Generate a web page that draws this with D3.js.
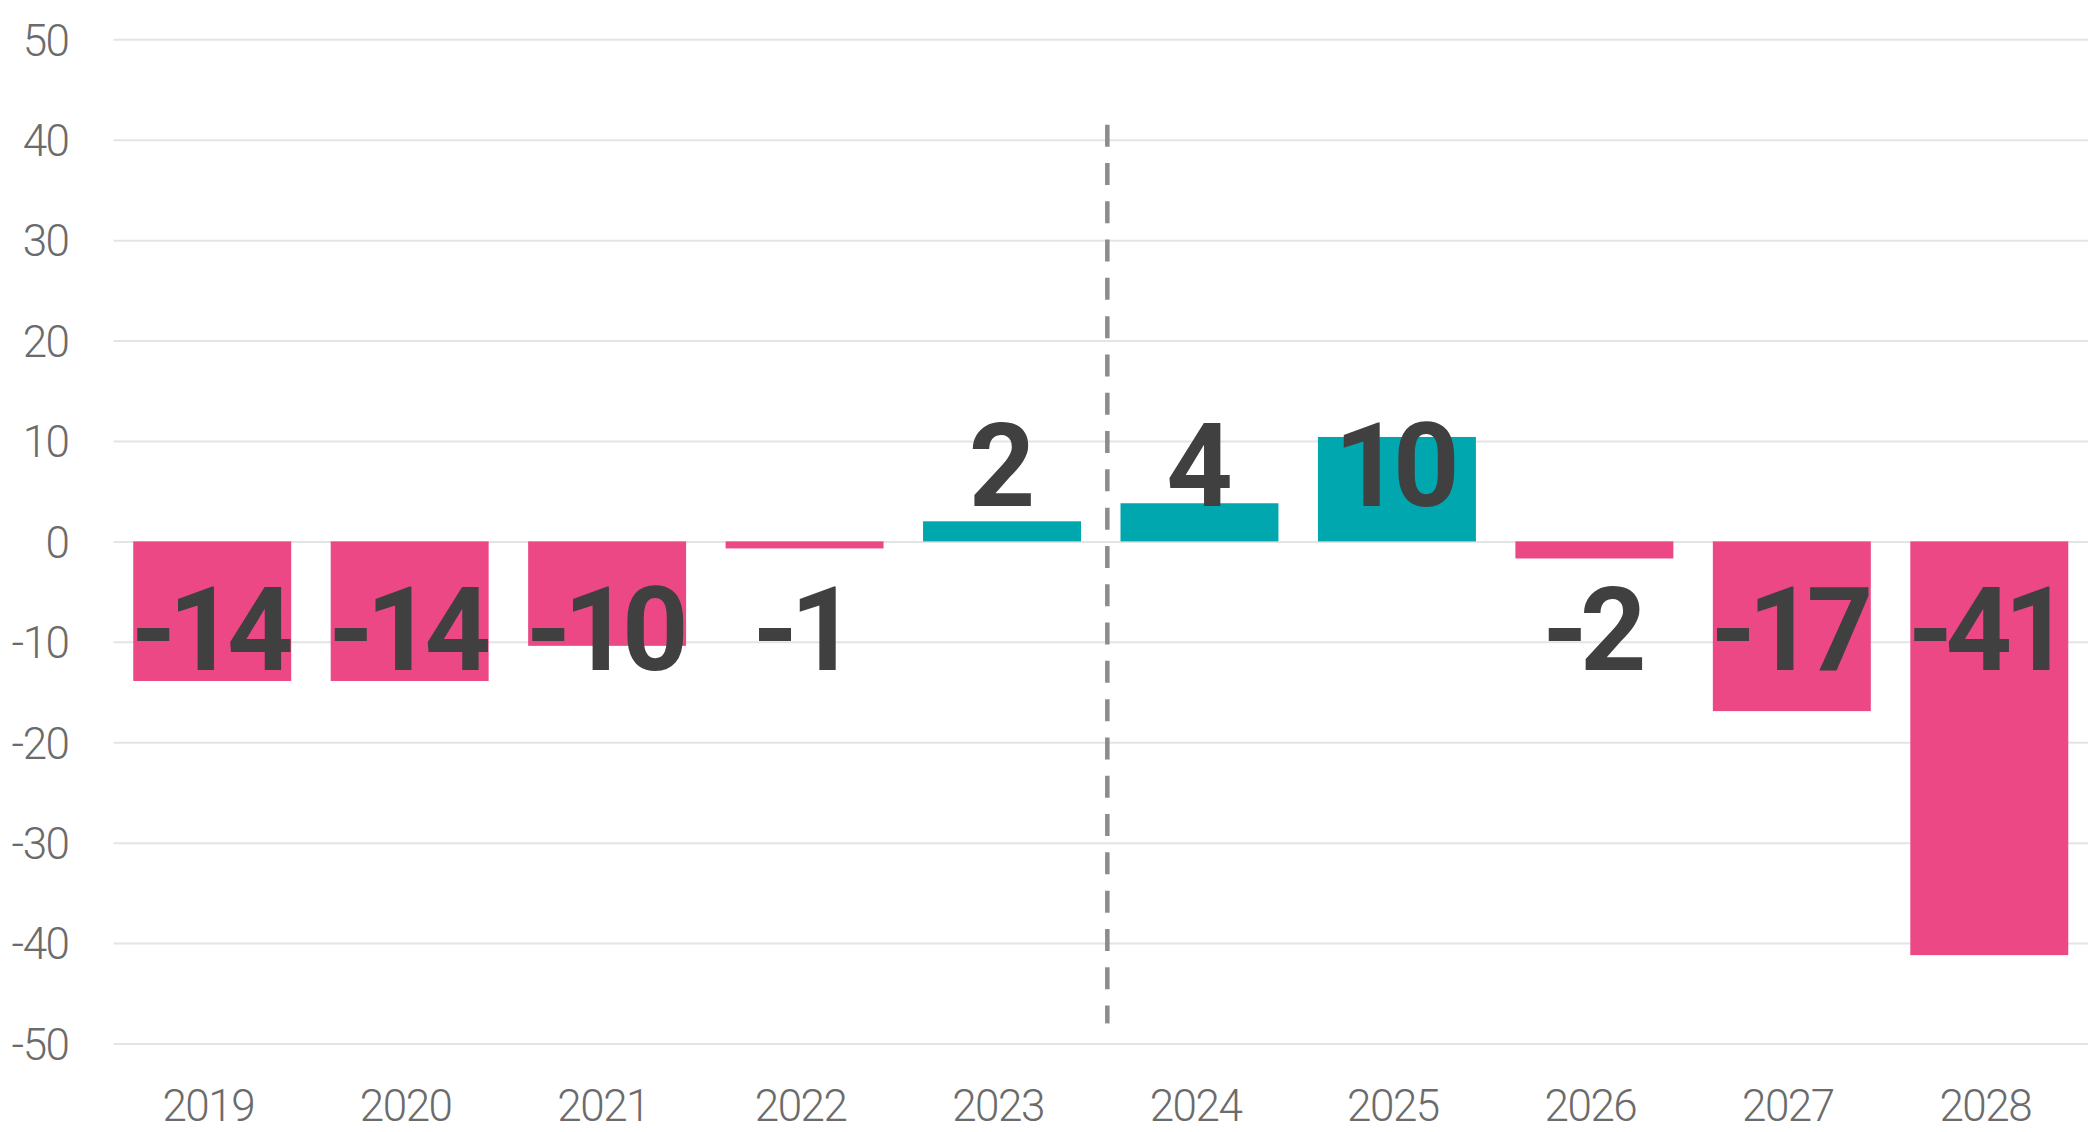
<!DOCTYPE html>
<html lang="en">
<head>
  <meta charset="UTF-8">
  <title>Balance por año</title>
  <style>
    body { margin: 0; background: #fff; }
    svg { display: block; }
    .axis text { font-family: Roboto, sans-serif; font-weight: 300; font-size: 44px; fill: #6b6b6b; letter-spacing: -1.5px; }
    .axis path { display: none; }
    .grid line { stroke: #e4e4e4; stroke-width: 2; }
    .val { font-family: Roboto, sans-serif; font-weight: 700; font-size: 116px; fill: #404040; letter-spacing: -8px; }
  </style>
</head>
<body>

<svg id="chart" width="2093" height="1132"></svg>

<script src="https://d3js.org/d3.v7.min.js"></script>
<script>
// datos
var years  = ["2019", "2020", "2021", "2022", "2023", "2024", "2025", "2026", "2027", "2028"];
var values = [-13.9, -13.9, -10.4, -0.7, 2.0, 3.8, 10.4, -1.7, -16.9, -41.2];
var yTicks = [50, 40, 30, 20, 10, 0, -10, -20, -30, -40, -50];
var splitYear = "2024";          // la linea punteada va antes de este año
var splitRange = [41.5, -48];    // alto de la linea punteada

var svg = d3.select("#chart"),
  width = +svg.attr("width"),
  height = +svg.attr("height"),
  left = 113.5, right = 2088;

var x = d3.scaleBand()
  .domain(years)
  .range([left, right])
  .paddingInner(0.2)
  .paddingOuter(0.1);

var y = d3.scaleLinear()
  .domain([-50, 50])
  .range([1043.5, 39.3]);

// lineas de fondo + etiquetas del eje y
var gy = svg.append("g")
  .attr("class", "axis grid")
  .attr("transform", "translate(" + left + ",0)")
  .call(d3.axisLeft(y).tickValues(yTicks).tickSize(-(right - left)).tickPadding(45).tickFormat(d => String(d)));
gy.selectAll("text").attr("dy", "0.36em");

// eje x (solo textos)
var gx = svg.append("g")
  .attr("class", "axis")
  .attr("transform", "translate(-4," + y(-50) + ")")
  .call(d3.axisBottom(x).tickSize(0).tickPadding(46));
gx.selectAll("line").remove();

// barras
svg.append("g").selectAll("rect")
  .data(values)
  .join("rect")
    .attr("x", (d, i) => x(years[i]))
    .attr("width", x.bandwidth())
    .attr("y", d => y(Math.max(0, d)))
    .attr("height", d => Math.abs(y(d) - y(0)))
    .attr("fill", d => d < 0 ? "#ec4886" : "#00a7ae");

// linea punteada
var xs = x(splitYear) - (x.step() - x.bandwidth()) / 3;
svg.append("line")
  .attr("x1", xs).attr("x2", xs)
  .attr("y1", y(splitRange[0])).attr("y2", y(splitRange[1]))
  .attr("stroke", "#8c8c8c")
  .attr("stroke-width", 4.5)
  .attr("stroke-dasharray", "22 16.3");

// etiquetas de valor
svg.append("g").selectAll("text")
  .data(values)
  .join("text")
    .attr("class", "val")
    .attr("text-anchor", "middle")
    .attr("x", (d, i) => x(years[i]) + x.bandwidth() / 2 - 4)
    .attr("y", d => d >= 0 ? y(0) - 35.5 : y(0) + 128.5)
    .text(d => String(Math.round(d)));
</script>

</body>
</html>
